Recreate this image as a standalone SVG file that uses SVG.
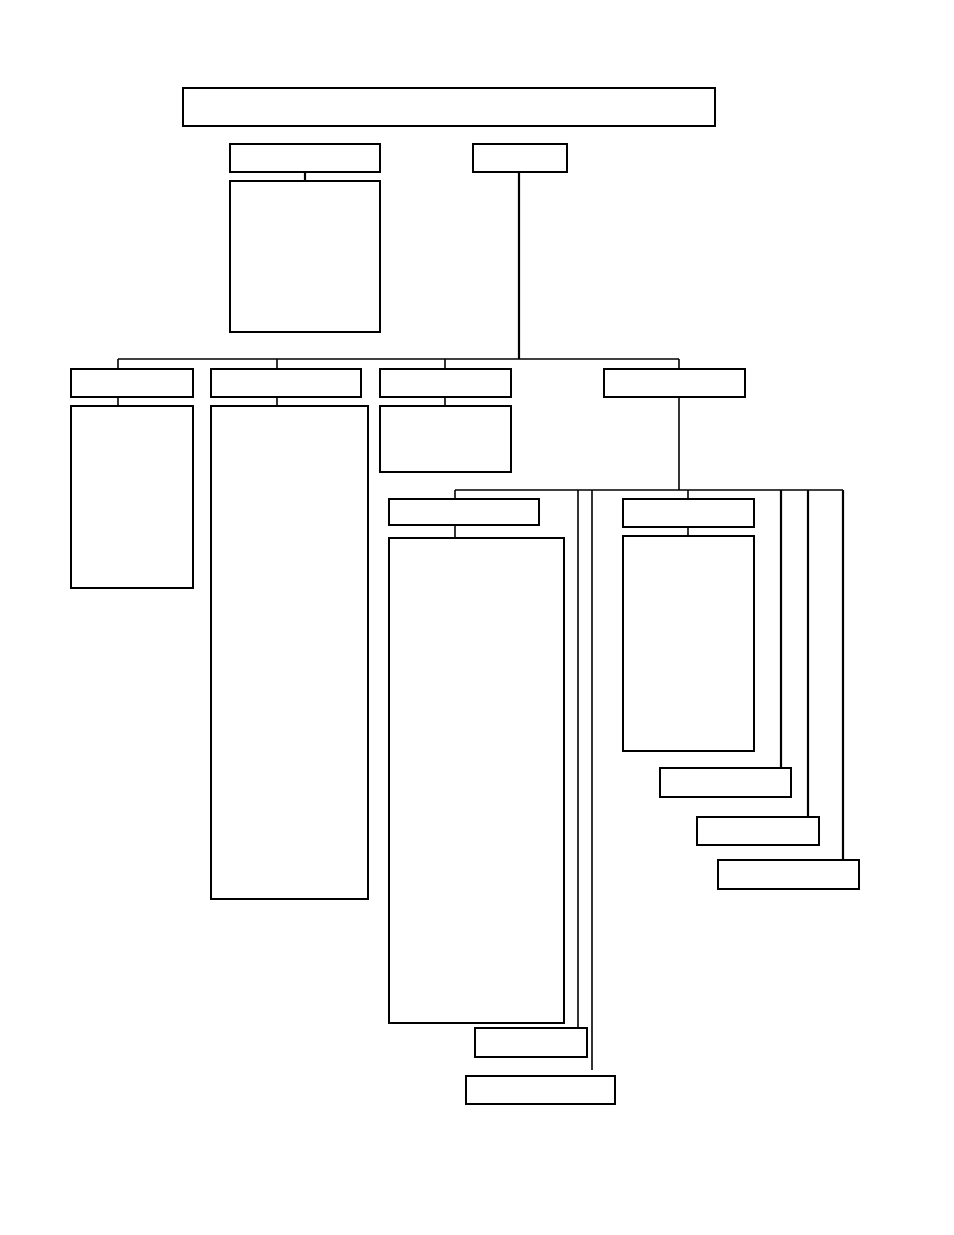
<svg xmlns="http://www.w3.org/2000/svg" width="954" height="1235" viewBox="0 0 954 1235">
<style>
.n{fill:#fff;stroke:#000;stroke-width:2}
.c line{stroke:#000;stroke-width:1.6}
.c .t{stroke-width:2.2}
</style>
<rect width="954" height="1235" fill="#fff"/>
<g class="c" id="connectors">
<line x1="305" y1="172" x2="305" y2="181" class="t"/>
<line x1="519" y1="172" x2="519" y2="359" class="t"/>
<line x1="118" y1="359" x2="679" y2="359"/>
<line x1="118" y1="359" x2="118" y2="369"/>
<line x1="277" y1="359" x2="277" y2="369"/>
<line x1="445" y1="359" x2="445" y2="369"/>
<line x1="679" y1="359" x2="679" y2="369"/>
<line x1="118" y1="397" x2="118" y2="406"/>
<line x1="277" y1="397" x2="277" y2="406"/>
<line x1="445" y1="397" x2="445" y2="406"/>
<line x1="679" y1="397" x2="679" y2="490"/>
<line x1="455" y1="490" x2="843" y2="490"/>
<line x1="455" y1="490" x2="455" y2="499"/>
<line x1="688" y1="490" x2="688" y2="499"/>
<line x1="455" y1="525" x2="455" y2="538"/>
<line x1="688" y1="527" x2="688" y2="536"/>
<line x1="578" y1="490" x2="578" y2="1028"/>
<line x1="592" y1="490" x2="592" y2="1070"/>
<line x1="781" y1="490" x2="781" y2="768" class="t"/>
<line x1="808" y1="490" x2="808" y2="817" class="t"/>
<line x1="843" y1="490" x2="843" y2="860" class="t"/>
</g>
<g id="n0"><rect class="n" x="183" y="88" width="532" height="38"/></g>
<g id="n1"><rect class="n" x="230" y="144" width="150" height="28"/></g>
<g id="n1b"><rect class="n" x="230" y="181" width="150" height="151"/></g>
<g id="n2"><rect class="n" x="473" y="144" width="94" height="28"/></g>
<g id="n3"><rect class="n" x="71" y="369" width="122" height="28"/></g>
<g id="n3b"><rect class="n" x="71" y="406" width="122" height="182"/></g>
<g id="n4"><rect class="n" x="211" y="369" width="150" height="28"/></g>
<g id="n4b"><rect class="n" x="211" y="406" width="157" height="493"/></g>
<g id="n5"><rect class="n" x="380" y="369" width="131" height="28"/></g>
<g id="n5b"><rect class="n" x="380" y="406" width="131" height="66"/></g>
<g id="n6"><rect class="n" x="604" y="369" width="141" height="28"/></g>
<g id="n7"><rect class="n" x="389" y="499" width="150" height="26"/></g>
<g id="n7b"><rect class="n" x="389" y="538" width="175" height="485"/></g>
<g id="n8"><rect class="n" x="623" y="499" width="131" height="28"/></g>
<g id="n8b"><rect class="n" x="623" y="536" width="131" height="215"/></g>
<g id="n9"><rect class="n" x="475" y="1028" width="112" height="29"/></g>
<g id="n10"><rect class="n" x="466" y="1076" width="149" height="28"/></g>
<g id="n11"><rect class="n" x="660" y="768" width="131" height="29"/></g>
<g id="n12"><rect class="n" x="697" y="817" width="122" height="28"/></g>
<g id="n13"><rect class="n" x="718" y="860" width="141" height="29"/></g>
</svg>
